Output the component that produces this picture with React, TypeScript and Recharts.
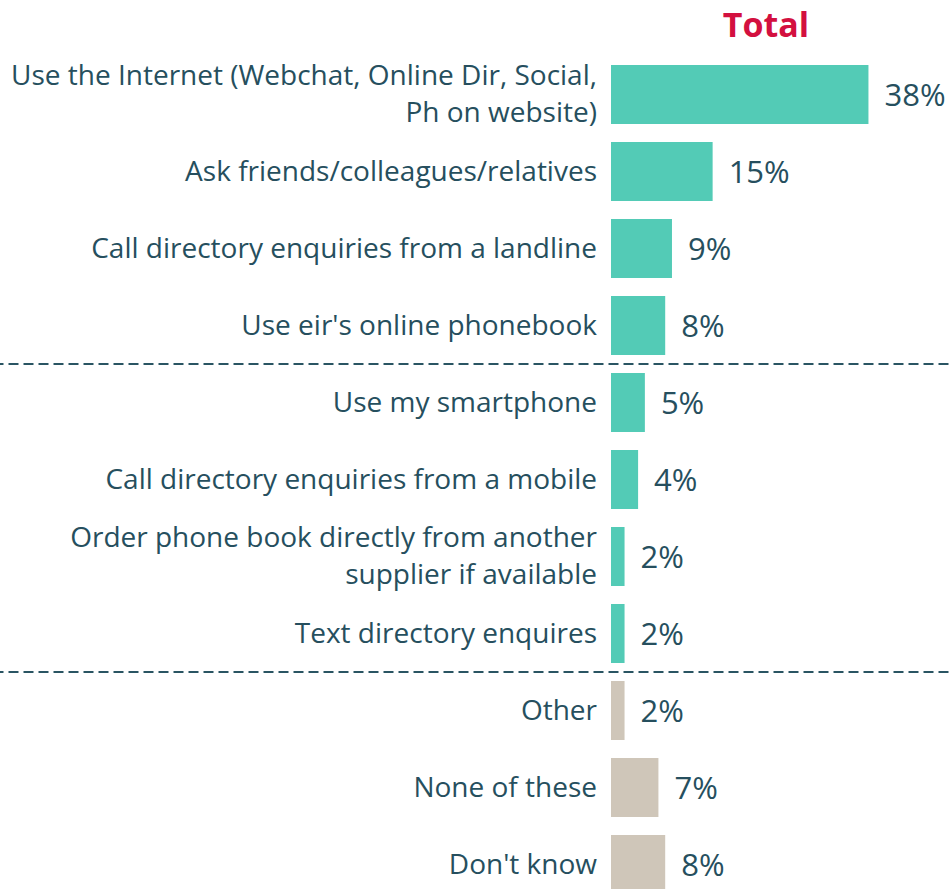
import { Bar, BarChart, Cell, LabelList, ReferenceLine, XAxis, YAxis } from "recharts";

const categories = [
  "Use the Internet (Webchat, Online Dir, Social,\nPh on website)",
  "Ask friends/colleagues/relatives",
  "Call directory enquiries from a landline",
  "Use eir's online phonebook",
  "Use my smartphone",
  "Call directory enquiries from a mobile",
  "Order phone book directly from another\nsupplier if available",
  "Text directory enquires",
  "Other",
  "None of these",
  "Don't know",
];

const values = [38, 15, 9, 8, 5, 4, 2, 2, 2, 7, 8];

const groups = [
  "top", "top", "top", "top",
  "mid", "mid", "mid", "mid",
  "rest", "rest", "rest",
];

// rows that start a new block get a dashed rule above them
const dividerBefore = ["Use my smartphone", "Other"];

const GROUP_COLORS: Record<string, string> = {
  top: "#53cbb6",
  mid: "#53cbb6",
  rest: "#cfc6b9",
};

const TEXT = "#264f5e";
const FONT = "'Open Sans', sans-serif";

const rows = categories.map((name, i) => ({ name, value: values[i], group: groups[i] }));

function CategoryTick(props: any) {
  const { x, y, payload } = props;
  const lines = String(payload.value).split("\n");
  const lineGap = 37;
  const startY = y - ((lines.length - 1) * lineGap) / 2;
  return (
    <text x={x} y={startY} textAnchor="end" fill={TEXT} fontSize={28} fontFamily={FONT}>
      {lines.map((line, i) => (
        <tspan key={i} x={x} y={startY + i * lineGap} dy="0.33em">
          {line}
        </tspan>
      ))}
    </text>
  );
}

export default function App() {
  return (
    <div
      style={{
        position: "absolute",
        left: 0,
        top: 0,
        width: 952,
        height: 889,
        overflow: "hidden",
        background: "#fff",
      }}
    >
      <div
        style={{
          position: "absolute",
          left: 611,
          width: 310,
          top: 2,
          textAlign: "center",
          color: "#d3103f",
          fontFamily: FONT,
          fontWeight: 700,
          fontSize: 34,
          lineHeight: "44px",
        }}
      >
        Total
      </div>
      <BarChart
        width={952}
        height={910}
        data={rows}
        layout="vertical"
        margin={{ top: 56, right: 70, bottom: 7, left: 0 }}
      >
        <XAxis type="number" domain={[0, 40]} hide />
        <YAxis
          type="category"
          dataKey="name"
          width={611}
          axisLine={false}
          tickLine={false}
          tickSize={0}
          tickMargin={14}
          interval={0}
          tick={<CategoryTick />}
        />
        {dividerBefore.map((cat) => (
          <ReferenceLine
            key={cat}
            segment={[
              { x: -100, y: cat },
              { x: 60, y: cat },
            ]}
            position="start"
            ifOverflow="visible"
            stroke="#2a5563"
            strokeWidth={1.8}
            strokeDasharray="10 5"
          />
        ))}
        <Bar dataKey="value" barSize={59} isAnimationActive={false}>
          {rows.map((r) => (
            <Cell key={r.name} fill={GROUP_COLORS[r.group]} />
          ))}
          <LabelList
            dataKey="value"
            position="right"
            offset={16}
            formatter={(v: any) => `${v}%`}
            fill={TEXT}
            fontSize={31}
            fontFamily={FONT}
          />
        </Bar>
      </BarChart>
    </div>
  );
}
